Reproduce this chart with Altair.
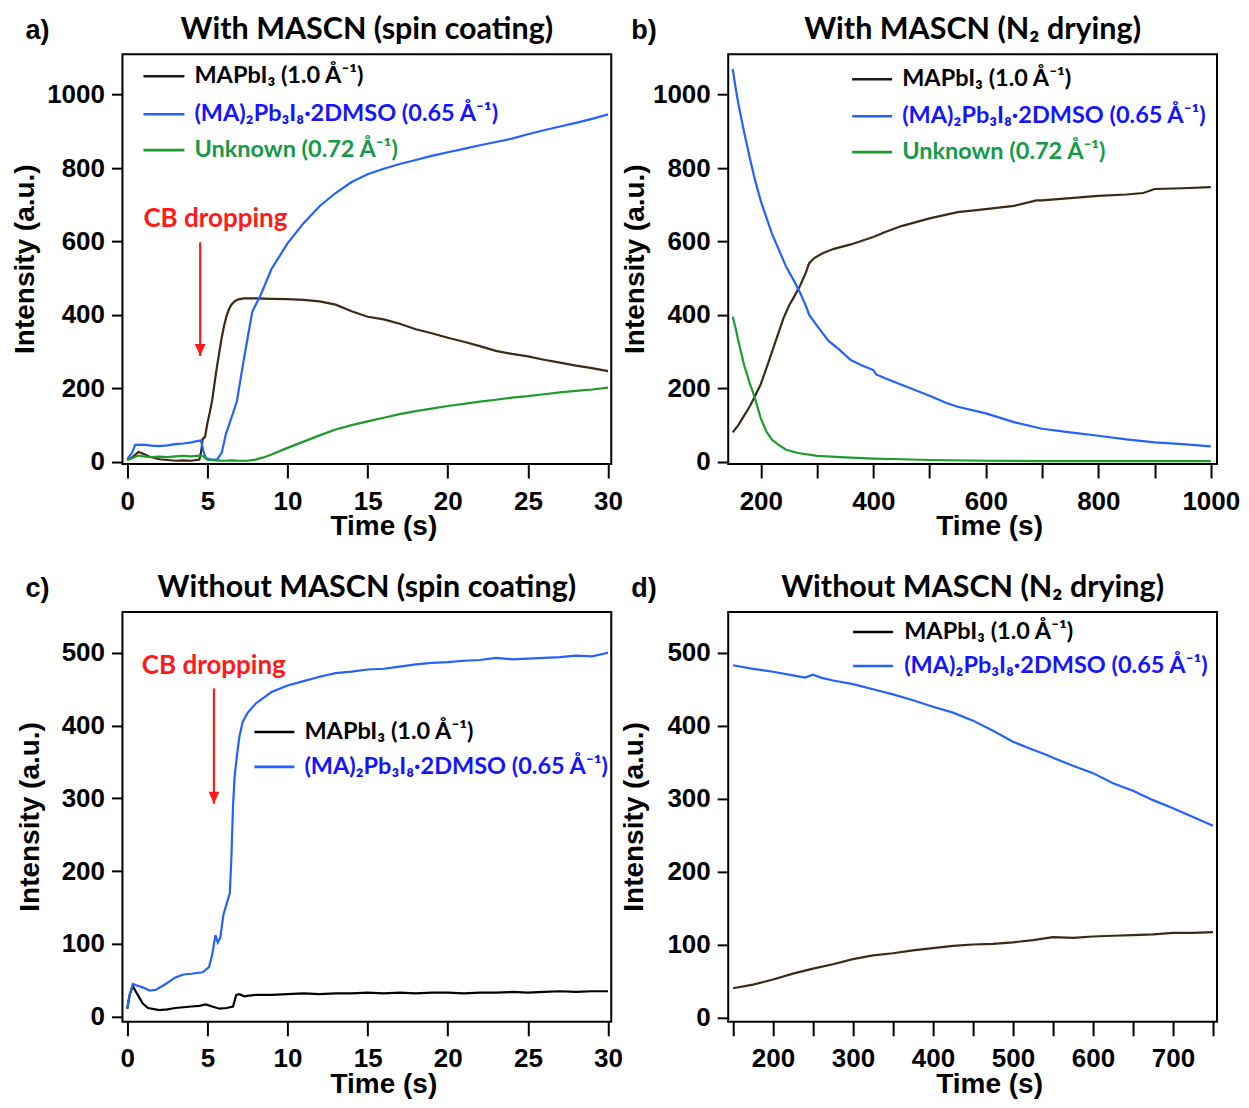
import altair as alt
import pandas as pd

# ---------------- data ----------------
# a) With MASCN (spin coating)
a_mapbi3_t = [0.0, 0.3, 0.7, 1.0, 1.4, 2.0, 2.5, 3.0, 3.5, 4.0, 4.5, 4.62, 4.7, 4.85, 5.0, 5.15, 5.3, 5.45,
              5.6, 5.75, 5.9, 6.05, 6.2, 6.35, 6.5, 6.65, 6.8, 7.0, 7.3, 8, 9, 10, 11, 12, 13, 14, 15, 16,
              17, 18, 19, 20, 21, 22, 23, 24, 25, 26, 27, 28, 29, 30]
a_mapbi3_v = [5, 12, 27, 22, 14, 7, 5, 3, 4, 3, 6, 30, 62, 68, 105, 135, 168, 215, 260, 300, 340, 372, 398,
              416, 428, 435, 440, 443, 445, 445, 444, 443, 441, 437, 428, 410, 395, 388, 376, 361, 350, 338,
              327, 315, 302, 294, 287, 278, 270, 262, 255, 247]
a_dmso_t = [0.0, 0.3, 0.5, 1.0, 1.5, 2.0, 2.5, 3.0, 3.5, 4.0, 4.4, 4.6, 4.75, 4.9, 5.2, 5.6, 5.9, 6.15, 6.5,
            6.84, 7.2, 7.5, 7.8, 8.3, 9, 10, 11, 12, 13, 14, 15, 16, 17, 18, 19, 20, 21, 22, 23, 24, 25, 26,
            27, 28, 29, 30]
a_dmso_v = [8, 25, 46, 47, 44, 43, 45, 48, 50, 53, 57, 58, 30, 10, 6, 6, 25, 75, 120, 165, 260, 335, 409, 452,
            525, 595, 650, 696, 732, 762, 783, 798, 811, 822, 833, 843, 852, 862, 871, 880, 892, 903, 913,
            923, 934, 946]
a_unknown_t = [0, 0.3, 0.7, 1.0, 1.5, 2.0, 2.5, 3, 3.5, 4, 4.5, 4.7, 5.0, 5.5, 6, 6.5, 7, 7.5, 8, 8.5, 9, 10,
               11, 12, 13, 14, 15, 16, 17, 18, 19, 20, 21, 22, 23, 24, 25, 26, 27, 28, 29, 30]
a_unknown_v = [5, 10, 17, 15, 13, 14, 13, 15, 16, 15, 17, 16, 6, 4, 3, 4, 3, 3, 6, 12, 20, 38, 55, 72, 88, 100,
               110, 120, 130, 138, 145, 152, 158, 164, 169, 175, 179, 184, 189, 193, 197, 202]

# b) With MASCN (N2 drying)
b_mapbi3_t = [150, 160, 170, 180, 190, 200, 210, 220, 230, 240, 250, 260, 270, 280, 286, 295, 310, 330, 360,
              400, 420, 450, 500, 550, 600, 650, 690, 700, 750, 800, 850, 880, 900, 950, 1000]
b_mapbi3_v = [80, 100, 125, 150, 180, 212, 255, 300, 345, 390, 425, 452, 480, 515, 541, 555, 568, 580, 592,
              612, 625, 642, 663, 680, 688, 697, 712, 712, 718, 724, 728, 732, 743, 745, 748]
b_dmso_t = [150, 155, 160, 170, 180, 190, 200, 210, 220, 230, 245, 260, 270, 280, 286, 300, 320, 340, 360,
            380, 400, 405, 420, 450, 500, 530, 550, 600, 650, 700, 750, 800, 850, 900, 950, 1000]
b_dmso_v = [1070, 1020, 975, 900, 830, 765, 710, 665, 620, 585, 531, 490, 460, 425, 400, 370, 330, 305, 277,
            262, 250, 238, 228, 210, 180, 160, 150, 132, 108, 90, 80, 71, 61, 53, 48, 42]
b_unknown_t = [150, 155, 160, 170, 180, 186, 195, 200, 210, 220, 231, 245, 266, 300, 350, 400, 450, 500, 600,
               700, 800, 900, 1000]
b_unknown_v = [395, 365, 330, 265, 215, 190, 145, 118, 82, 60, 47, 33, 24, 16, 12, 9, 7, 5, 3, 2, 2, 2, 2]

# c) Without MASCN (spin coating)
c_mapbi3_t = [0, 0.15, 0.35, 0.6, 0.97, 1.3, 2.0, 2.5, 3.0, 3.5, 4.0, 4.5, 4.9, 5.3, 5.75, 6.2, 6.6, 6.8, 7.0,
              7.3, 7.6, 8, 9, 10, 11, 12, 13, 14, 15, 16, 17, 18, 19, 20, 21, 22, 23, 24, 25, 26, 27, 28, 29, 30]
c_mapbi3_v = [11, 30, 42, 32, 18, 12, 9, 10, 12, 13, 14, 15, 17, 14, 11, 12, 14, 30, 31, 28, 29, 30, 30, 31,
              32, 31, 32, 32, 33, 32, 33, 32, 33, 33, 32, 33, 33, 34, 33, 34, 35, 34, 35, 35]
c_dmso_t = [0, 0.15, 0.35, 0.6, 1.0, 1.4, 1.8, 2.4, 3.0, 3.5, 4.0, 4.7, 5.1, 5.3, 5.5, 5.65, 5.8, 6.0, 6.2,
            6.4, 6.5, 6.6, 6.7, 6.85, 7.0, 7.2, 7.5, 8, 8.5, 9, 10, 11, 12, 13, 14, 15, 16, 17, 18, 19, 20, 21,
            22, 23, 24, 25, 26, 27, 28, 29, 30]
c_dmso_v = [11, 30, 45, 43, 40, 36, 37, 45, 54, 58, 59, 61, 68, 85, 112, 102, 108, 140, 155, 170, 220, 290,
            330, 360, 385, 405, 417, 430, 438, 446, 455, 461, 467, 472, 474, 477, 478, 481, 484, 486, 487,
            489, 490, 493, 491, 492, 493, 494, 496, 495, 500]

# d) Without MASCN (N2 drying)
d_mapbi3_t = [150, 175, 200, 225, 250, 275, 300, 325, 350, 375, 400, 425, 450, 475, 500, 525, 550, 575, 600,
              625, 650, 675, 700, 725, 750]
d_mapbi3_v = [40, 45, 52, 60, 67, 73, 80, 85, 88, 92, 95, 98, 100, 101, 103, 106, 110, 109, 111, 112, 113, 114,
              116, 116, 117]
d_dmso_t = [150, 175, 200, 225, 240, 250, 260, 275, 300, 325, 350, 375, 400, 425, 450, 475, 500, 525, 540,
            550, 575, 600, 625, 650, 675, 700, 725, 750]
d_dmso_v = [483, 478, 474, 469, 466, 470, 466, 462, 457, 450, 443, 435, 426, 418, 407, 393, 378, 367, 361, 356,
            345, 335, 321, 311, 298, 287, 275, 263]

# tick values
ticks_spin_x = [0, 5, 10, 15, 20, 25, 30]
ticks_b_x = [200, 300, 400, 500, 600, 700, 800, 900, 1000]
ticks_d_x = [150, 200, 250, 300, 350, 400, 450, 500, 550, 600, 650, 700, 750]
ticks_with_y = [0, 200, 400, 600, 800, 1000]
ticks_without_y = [0, 100, 200, 300, 400, 500]

label_mapbi3 = "MAPbI₃ (1.0 Å⁻¹)"
label_dmso = "(MA)₂Pb₃I₈·2DMSO (0.65 Å⁻¹)"
label_unknown = "Unknown (0.72 Å⁻¹)"

# ---------------- styles ----------------
BROWN = "#3b2a16"
BLACK = "#000000"
BLUE = "#2362ff"
GREEN = "#1f9a2e"
TXT_BLUE = "#1414ff"
TXT_GREEN = "#17994a"
RED = "#ff1a1a"
SANS = "Liberation Sans, Arial, sans-serif"
HUM = "Lato, 'Noto Sans', sans-serif"
W, H = 489, 410
ONE = alt.Data(values=[{"k": 1}])


def txt(x, y, s, size, font, color, align="left", baseline="alphabetic", angle=0):
    return alt.Chart(ONE).mark_text(
        text=s, align=align, baseline=baseline, font=font, fontSize=size,
        fontWeight="bold", color=color, angle=angle
    ).encode(x=alt.value(x), y=alt.value(y))


def legend_item(x1, x2, xt, y, s, line_color, text_color):
    rule = alt.Chart(ONE).mark_rule(color=line_color, strokeWidth=2.6).encode(
        x=alt.value(x1), x2=alt.value(x2), y=alt.value(y))
    return [rule, txt(xt, y, s, 23.5, HUM, text_color, baseline="middle")]


def panel(series, xdom, ydom, xticks, xstep, yticks, title, tag, legend, ytitle_x,
          arrow=None, cb=None):
    xs = alt.Scale(domain=xdom, nice=False, zero=False)
    ys = alt.Scale(domain=ydom, nice=False, zero=False)
    xax = alt.Axis(values=xticks, title=None, format="d",
                   labelExpr=f"datum.value % {xstep} == 0 ? datum.label : ''")
    yax = alt.Axis(values=yticks, title=None, format="d")
    layers = []
    for t, v, col in series:
        df = pd.DataFrame({"t": t, "v": v})
        layers.append(alt.Chart(df).mark_line(color=col, strokeWidth=2.2).encode(
            x=alt.X("t:Q", scale=xs, axis=xax), y=alt.Y("v:Q", scale=ys, axis=yax)))
    if arrow is not None:
        ax, ytop, ytip = arrow
        adf = pd.DataFrame({"t": [ax], "v": [ytop], "v2": [ytip]})
        layers.append(alt.Chart(adf).mark_rule(color=RED, strokeWidth=2.2).encode(
            x=alt.X("t:Q", scale=xs, axis=xax), y=alt.Y("v:Q", scale=ys, axis=yax), y2="v2:Q"))
        hdf = pd.DataFrame({"t": [ax], "v": [ytip]})
        layers.append(alt.Chart(hdf).mark_point(
            shape="M-0.9,-1L0.9,-1L0,1Z", size=144, filled=True, color=RED, opacity=1,
            yOffset=-6).encode(
            x=alt.X("t:Q", scale=xs, axis=xax), y=alt.Y("v:Q", scale=ys, axis=yax)))
    if cb is not None:
        cdf = pd.DataFrame({"t": [cb[0]], "v": [cb[1]]})
        layers.append(alt.Chart(cdf).mark_text(
            text="CB dropping", font=HUM, fontSize=26, fontWeight="bold", color=RED,
            align="center", baseline="middle").encode(
            x=alt.X("t:Q", scale=xs, axis=xax), y=alt.Y("v:Q", scale=ys, axis=yax)))
    x1, x2, xt, rows = legend
    for (y, s, lc, tc) in rows:
        layers += legend_item(x1, x2, xt, y, s, lc, tc)
    layers.append(txt(W / 2, -15, title, 30.5, HUM, BLACK, align="center"))
    layers.append(txt(-97, -15, tag, 27, SANS, BLACK))
    layers.append(txt(ytitle_x, H / 2, "Intensity (a.u.)", 28, SANS, BLACK, align="center",
                      baseline="middle", angle=270))
    layers.append(txt(W / 2 + 17, H + 63, "Time (s)", 28, SANS, BLACK, align="center",
                      baseline="middle"))
    return alt.layer(*layers).properties(width=W, height=H)


pa = panel(
    [(a_mapbi3_t, a_mapbi3_v, BROWN), (a_dmso_t, a_dmso_v, BLUE), (a_unknown_t, a_unknown_v, GREEN)],
    [-0.3, 30.2], [-6, 1110], ticks_spin_x, 5, ticks_with_y,
    "With MASCN (spin coating)", "a)",
    (21, 62, 72, [(22, label_mapbi3, "#1a1a1a", BLACK), (60, label_dmso, BLUE, TXT_BLUE),
                  (96, label_unknown, GREEN, TXT_GREEN)]),
    -96, arrow=(4.55, 598, 288), cb=(5.5, 660))

pb = panel(
    [(b_mapbi3_t, b_mapbi3_v, BROWN), (b_dmso_t, b_dmso_v, BLUE), (b_unknown_t, b_unknown_v, GREEN)],
    [142, 1011], [-6, 1110], ticks_b_x, 200, ticks_with_y,
    "With MASCN (N₂ drying)", "b)",
    (124, 164, 174, [(25, label_mapbi3, "#1a1a1a", BLACK), (62, label_dmso, BLUE, TXT_BLUE),
                     (98, label_unknown, GREEN, TXT_GREEN)]),
    -92)

pc = panel(
    [(c_mapbi3_t, c_mapbi3_v, BLACK), (c_dmso_t, c_dmso_v, BLUE)],
    [-0.3, 30.2], [-7, 556], ticks_spin_x, 5, ticks_without_y,
    "Without MASCN (spin coating)", "c)",
    (132, 172, 182, [(120, label_mapbi3, BLACK, BLACK), (155, label_dmso, BLUE, TXT_BLUE)]),
    -91, arrow=(5.41, 451, 292.6), cb=(5.4, 482))

pd_ = panel(
    [(d_mapbi3_t, d_mapbi3_v, BROWN), (d_dmso_t, d_dmso_v, BLUE)],
    [144, 755], [-6, 556], ticks_d_x, 100, ticks_without_y,
    "Without MASCN (N₂ drying)", "d)",
    (125, 165, 176, [(20, label_mapbi3, BLACK, BLACK), (54, label_dmso, BLUE, TXT_BLUE)]),
    -93)

chart = alt.ConcatChart(
    concat=[pa, pb, pc, pd_], columns=2, spacing={"row": 148, "column": 117}, bounds="flush"
).properties(
    padding={"left": 3.5, "top": 6, "right": 0, "bottom": 0}
).configure(background="white").configure_view(
    stroke="black", strokeWidth=2
).configure_axis(
    grid=False, domain=False, tickColor="black", tickWidth=2, labelColor="black",
    labelFont=SANS, labelFontSize=26, labelFontWeight="bold", labelOverlap=False,
    labelFlush=False
).configure_axisX(tickSize=14, labelPadding=10).configure_axisY(tickSize=11, labelPadding=7)

chart.save("out.html", embed_options={"renderer": "svg", "actions": False})
